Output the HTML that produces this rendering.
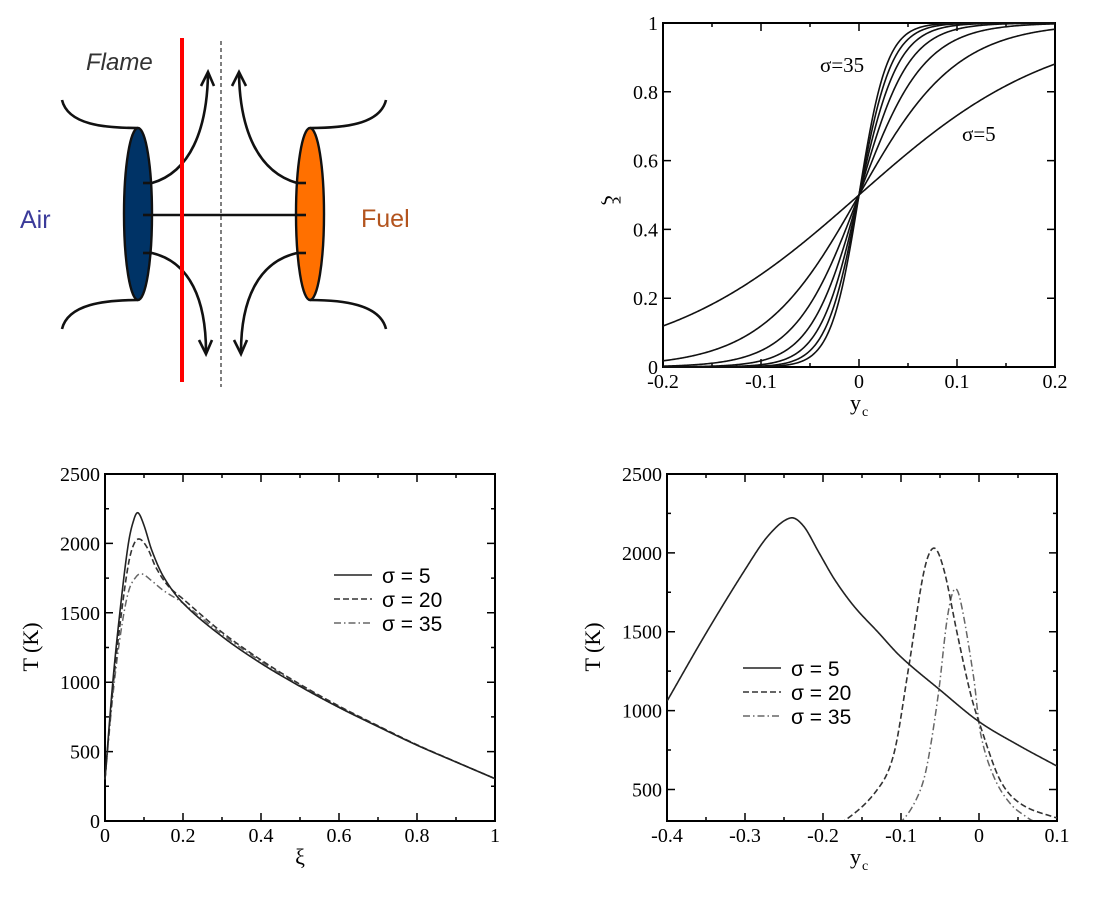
<!DOCTYPE html>
<html><head><meta charset="utf-8"><style>
html,body{margin:0;padding:0;background:#fff;}
svg{display:block;}
text{font-family:"Liberation Serif",serif;fill:#000;}
.s{font-family:"Liberation Sans",sans-serif;}
</style></head><body>
<svg id="sv" width="1097" height="897" viewBox="0 0 1097 897" xmlns="http://www.w3.org/2000/svg">
<defs><clipPath id="cp"><rect x="667" y="474" width="390" height="346"/></clipPath></defs>
<g fill="none" stroke="#111" stroke-width="2.6">
<path d="M62,100 C68,125 105,128 138,128"/>
<path d="M62,329 C68,304 105,300 138,300"/>
<path d="M386,100 C380,125 342,128 310,128"/>
<path d="M386,329 C380,304 342,300 310,300"/>
<line x1="143" y1="215" x2="305" y2="215"/>
<path d="M140,183 L152,183 C190,172 207,130 208,74"/>
<path d="M306,183 L297,183 C258,172 240,130 239,74"/>
<path d="M140,253 L152,253 C190,262 206,300 206,352"/>
<path d="M306,253 L297,253 C258,262 241,300 241,352"/>
<path d="M201,86 L208,72 L214,86"/>
<path d="M232,86 L239,72 L246,86"/>
<path d="M199,340 L206,354 L212,340"/>
<path d="M234,340 L241,354 L247,340"/>
</g>
<ellipse cx="138" cy="214" rx="14" ry="86" fill="#003366" stroke="#111" stroke-width="2.4"/>
<ellipse cx="310" cy="214" rx="14" ry="86" fill="#ff7000" stroke="#111" stroke-width="2.4"/>
<g stroke="#111" stroke-width="2.6">
<line x1="143" y1="183" x2="152" y2="183"/><line x1="143" y1="215" x2="152" y2="215"/><line x1="143" y1="253" x2="152" y2="253"/>
<line x1="297" y1="183" x2="306" y2="183"/><line x1="297" y1="215" x2="306" y2="215"/><line x1="297" y1="253" x2="306" y2="253"/>
</g>
<line x1="182" y1="38" x2="182" y2="382" stroke="#ff0000" stroke-width="4"/>
<line x1="221" y1="41" x2="221" y2="387" stroke="#555" stroke-width="1.5" stroke-dasharray="4,3"/>
<text x="86" y="70" class="s" font-size="24" font-style="italic" style="fill:#333">Flame</text>
<text x="20" y="228" class="s" font-size="25" style="fill:#3b3b9a">Air</text>
<text x="361" y="227" class="s" font-size="25" style="fill:#b3541e">Fuel</text>
<g id="plots"></g>
</svg>
<script>
var NS="http://www.w3.org/2000/svg",G=document.getElementById('plots');
function el(t,a,txt){var e=document.createElementNS(NS,t);for(var k in a)e.setAttribute(k,a[k]);if(txt!=null)e.textContent=txt;G.appendChild(e);return e;}
function axes(L,R,T,B,x0,x1,y0,y1,xt,xm,yt,ym,yl0,xfmt,yfmt){
 el('rect',{x:L,y:T,width:R-L,height:B-T,fill:'none',stroke:'#000','stroke-width':2});
 var X=function(v){return L+(v-x0)/(x1-x0)*(R-L)},Y=function(v){return B-(v-y0)/(y1-y0)*(B-T)};
 var d='';
 var nx=Math.round((x1-x0)/xm);
 for(var k=0;k<=nx;k++){var v=x0+k*xm;var maj=(k%Math.round(xt/xm))==0;var l=maj?8:4;var x=X(v);d+='M'+x+','+B+'v'+(-l)+'M'+x+','+T+'v'+l;
  if(maj)el('text',{x:x,y:B+21,'text-anchor':'middle','font-size':20},xfmt(v));}
 var ny=Math.round((y1-yl0)/ym);
 for(var k=0;k<=ny;k++){var v=yl0+k*ym;var maj=(k%Math.round(yt/ym))==0;var l=maj?8:4;var y=Y(v);d+='M'+L+','+y+'h'+l+'M'+R+','+y+'h'+(-l);
  if(maj)el('text',{x:L-5,y:y+7,'text-anchor':'end','font-size':20},yfmt(v));}
 el('path',{d:d,stroke:'#000','stroke-width':1.5,fill:'none'});
 return [X,Y];
}
function f(v){var r=Math.round(v*100)/100;return Math.abs(r)<1e-9?'0':r.toString();}
function fi(v){return Math.round(v).toString();}
function interp(p,x){if(x<=p[0][0])return p[0][1];for(var i=0;i<p.length-1;i++){if(x<=p[i+1][0]){var p0=p[Math.max(i-1,0)],p1=p[i],p2=p[i+1],p3=p[Math.min(i+2,p.length-1)];var h=p2[0]-p1[0];var t=(x-p1[0])/h;
 var m1=(p2[1]-p0[1])/(p2[0]-p0[0])*h,m2=(p3[1]-p1[1])/(p3[0]-p1[0])*h;
 var t2=t*t,t3=t2*t;return (2*t3-3*t2+1)*p1[1]+(t3-2*t2+t)*m1+(-2*t3+3*t2)*p2[1]+(t3-t2)*m2;}}return p[p.length-1][1];}
var a=axes(663,1055,23,367,-0.2,0.2,0,1,0.1,0.05,0.2,0.2,0,f,f);
for(var s=5;s<=35;s+=5){var d='';for(var i=0;i<=400;i++){var y=-0.2+0.4*i/400;var xi=0.5*(1+Math.tanh(s*y));d+=(i?'L':'M')+a[0](y).toFixed(2)+','+a[1](xi).toFixed(2);}el('path',{d:d,fill:'none',stroke:'#111','stroke-width':1.6});}
el('text',{x:820,y:72,'font-size':21},'σ=35');el('text',{x:962,y:141,'font-size':21},'σ=5');
el('text',{x:605,y:200,'font-size':22,transform:'rotate(90 605 200)','text-anchor':'middle'},'ξ');
el('text',{x:850,y:410,'font-size':22},'y');el('text',{x:862,y:416,'font-size':14},'c');
var D={5:[[0,300],[0.02,1000],[0.04,1550],[0.06,2000],[0.075,2180],[0.085,2220],[0.1,2130],[0.12,1950],[0.15,1760],[0.2,1570],[0.3,1330],[0.4,1136],[0.5,970],[0.6,818],[0.7,680],[0.8,546],[0.9,425],[1,305]],
20:[[0,300],[0.02,950],[0.04,1450],[0.06,1850],[0.075,2000],[0.09,2030],[0.11,1960],[0.13,1830],[0.16,1700],[0.2,1600],[0.3,1360],[0.4,1160],[0.5,985],[0.6,828],[0.7,686],[0.8,549],[0.9,426],[1,305]],
35:[[0,300],[0.02,900],[0.04,1350],[0.06,1650],[0.08,1760],[0.095,1780],[0.12,1730],[0.15,1660],[0.2,1570],[0.3,1345],[0.4,1150],[0.5,978],[0.6,822],[0.7,683],[0.8,547],[0.9,425],[1,305]]};
var E={5:[[-0.4,1060],[-0.35,1490],[-0.3,1893],[-0.27,2110],[-0.242,2221],[-0.225,2170],[-0.205,2000],[-0.185,1830],[-0.16,1660],[-0.13,1500],[-0.1,1340],[-0.05,1131],[0,930],[0.05,782],[0.1,648]],
20:[[-0.2,250],[-0.173,300],[-0.131,495],[-0.109,729],[-0.09,1279],[-0.071,1872],[-0.058,2030],[-0.045,1893],[-0.028,1490],[-0.011,1110],[0.002,898],[0.027,560],[0.053,411],[0.096,325],[0.11,315]],
35:[[-0.12,250],[-0.099,300],[-0.079,452],[-0.067,643],[-0.052,1110],[-0.041,1575],[-0.032,1766],[-0.024,1702],[-0.007,1215],[0.002,856],[0.019,581],[0.040,411],[0.061,325],[0.07,300],[0.1,260]]};
var sty={5:{stroke:'#222','stroke-width':1.6},20:{stroke:'#333','stroke-width':1.6,'stroke-dasharray':'6,3'},35:{stroke:'#666','stroke-width':1.5,'stroke-dasharray':'7,3,1.5,3'}};
function st(s){var o={fill:'none'};for(var k in sty[s])o[k]=sty[s][k];return o;}
var b=axes(105,495,474,821,0,1,0,2500,0.2,0.1,500,250,0,f,fi);
[35,20,5].forEach(function(s){var d='';for(var i=0;i<=600;i++){var x=i/600;d+=(i?'L':'M')+b[0](x).toFixed(2)+','+b[1](interp(D[s],x)).toFixed(2);}var o=st(s);o.d=d;el('path',o);});
el('text',{x:38,y:647,'font-size':22,transform:'rotate(-90 38 647)','text-anchor':'middle'},'T (K)');
el('text',{x:300,y:864,'font-size':22,'text-anchor':'middle'},'ξ');
function legend(x,y0,dy){[5,20,35].forEach(function(s,i){var y=y0+i*dy;var o=st(s);o.x1=x;o.x2=x+38;o.y1=y;o.y2=y;el('line',o);el('text',{x:x+48,y:y+8,'font-size':21,'class':'s'},'σ = '+s);});}
legend(334,575,24);
var c=axes(667,1057,474,821,-0.4,0.1,300,2500,0.1,0.05,500,250,500,f,fi);
[35,20,5].forEach(function(s){var d='';var p=E[s];var lo=p[0][0],hi=p[p.length-1][0];for(var i=0;i<=800;i++){var y=lo+(hi-lo)*i/800;d+=(i?'L':'M')+c[0](y).toFixed(2)+','+c[1](interp(p,y)).toFixed(2);}var o=st(s);o.d=d;o['clip-path']='url(#cp)';el('path',o);});
el('text',{x:600,y:647,'font-size':22,transform:'rotate(-90 600 647)','text-anchor':'middle'},'T (K)');
el('text',{x:850,y:864,'font-size':22},'y');el('text',{x:862,y:870,'font-size':14},'c');
legend(743,668,24);
</script>
</body></html>
